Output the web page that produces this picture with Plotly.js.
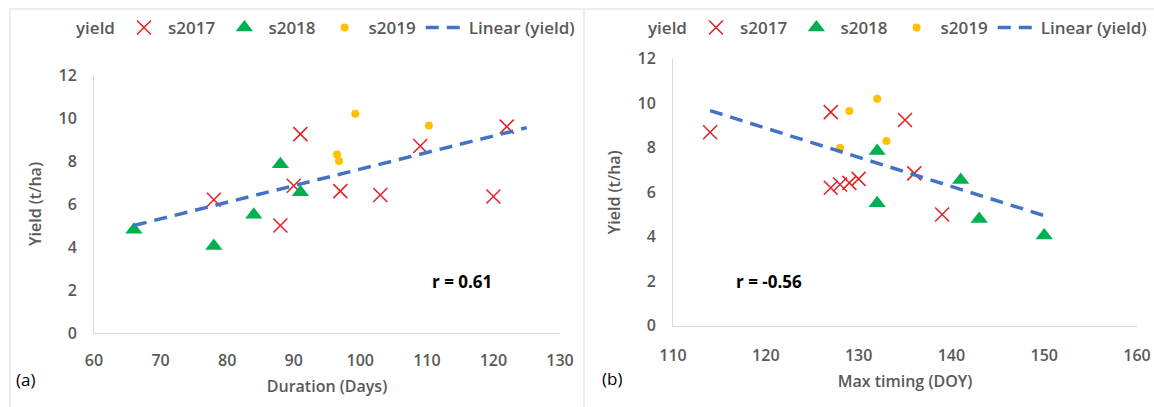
<!DOCTYPE html>
<html>
<head>
<meta charset="utf-8">
<script src="https://cdn.plot.ly/plotly-3.0.1.min.js"></script>
<style>
  html, body { margin: 0; padding: 0; background: #ffffff; }
  #chart { width: 1154px; height: 407px; }
</style>
</head>
<body>
<div id="chart"></div>
<script>
// Yield per site, grouped by season, with the two predictors for each site
const yield2017 = [6.2, 5.0, 6.85, 9.25, 6.6, 6.42, 8.7, 6.35, 9.6];
const duration2017 = [78, 88, 90, 91, 97, 103, 109, 120, 122];
const maxDoy2017 = [127, 139, 136, 135, 130, 129, 114, 128, 127];

const yield2018 = [4.8, 4.05, 5.5, 7.85, 6.55];
const duration2018 = [66, 78, 84, 88, 91];
const maxDoy2018 = [143, 150, 132, 132, 141];

const yield2019 = [10.2, 9.65, 8.3, 8.0];
const duration2019 = [99.25, 110.3, 96.5, 96.8];
const maxDoy2019 = [132, 129, 133, 128];

// Linear trend end points for each panel
const trendDurationX = [66, 125];
const trendDurationY = [5.0, 9.55];
const trendDoyX = [114, 150];
const trendDoyY = [9.67, 4.95];

const rLabels = ['r = 0.61', 'r = -0.56'];
const panelLabels = ['(a)', '(b)'];

const W = 1154, H = 407;
const px = v => v / W;          // horizontal pixel -> paper
const py = v => 1 - v / H;      // vertical pixel (from top) -> paper

const GRAY = '#595959';
const FONT = 'Open Sans, sans-serif';
const RED = '#E0262B', GREEN = '#00B050', GOLD = '#FFC000', BLUE = '#4472C4';

function seriesTraces(xa, ya, legendId, xs2017, xs2018, xs2019, tx, ty) {
  return [
    { type: 'scatter', mode: 'markers', name: 'yield', x: [null], y: [null],
      xaxis: xa, yaxis: ya, legend: legendId,
      marker: { size: 0, color: 'rgba(0,0,0,0)', line: { width: 0 } } },
    { type: 'scatter', mode: 'markers', name: 's2017', x: xs2017, y: yield2017,
      xaxis: xa, yaxis: ya, legend: legendId,
      marker: { symbol: 'x-thin-open', size: 14, color: RED, line: { color: RED, width: 1.6 } } },
    { type: 'scatter', mode: 'markers', name: 's2018', x: xs2018, y: yield2018,
      xaxis: xa, yaxis: ya, legend: legendId,
      marker: { symbol: 'triangle-up', size: 15, color: GREEN } },
    { type: 'scatter', mode: 'markers', name: 's2019', x: xs2019, y: yield2019,
      xaxis: xa, yaxis: ya, legend: legendId,
      marker: { symbol: 'circle', size: 8, color: GOLD } },
    { type: 'scatter', mode: 'lines', name: 'Linear (yield)', x: tx, y: ty,
      xaxis: xa, yaxis: ya, legend: legendId,
      line: { color: BLUE, width: 3.5, dash: '13px,8px' } }
  ];
}

const data = [
  ...seriesTraces('x', 'y', 'legend', duration2017, duration2018, duration2019, trendDurationX, trendDurationY),
  ...seriesTraces('x2', 'y2', 'legend2', maxDoy2017, maxDoy2018, maxDoy2019, trendDoyX, trendDoyY)
];

const tickFont = { family: FONT, size: 16, color: GRAY, weight: 600 };
const titleFont = { family: FONT, size: 16, color: GRAY, weight: 600 };

function xAxis(domain, range, dtick, title, anchor, standoff) {
  return {
    domain: domain, range: range, dtick: dtick, tick0: range[0], anchor: anchor,
    showgrid: false, zeroline: false, showline: true, linecolor: '#D9D9D9', linewidth: 1,
    ticks: '', ticklabelstandoff: standoff, tickfont: tickFont, fixedrange: true,
    title: { text: title, font: titleFont, standoff: 10 }
  };
}
function yAxis(domain, anchor) {
  return {
    domain: domain, range: [0, 12], dtick: 2, tick0: 0, anchor: anchor,
    showgrid: false, zeroline: false, showline: true, linecolor: '#D9D9D9', linewidth: 1,
    ticks: '', ticklabelstandoff: 13, tickfont: tickFont, fixedrange: true,
    title: { text: 'Yield (t/ha)', font: titleFont, standoff: 12 }
  };
}

const legendBase = {
  orientation: 'h', xanchor: 'right', yanchor: 'middle',
  itemwidth: 38,
  font: { family: FONT, size: 17, color: GRAY, weight: 600 },
  bgcolor: 'rgba(0,0,0,0)', itemclick: false, itemdoubleclick: false,
  tracegroupgap: 0
};

const layout = {
  width: W, height: H,
  margin: { l: 0, r: 0, t: 0, b: 0 },
  paper_bgcolor: '#ffffff', plot_bgcolor: '#ffffff',
  showlegend: true,
  xaxis: xAxis([px(94), px(560)], [60, 130], 10, 'Duration (Days)', 'y', 13),
  yaxis: yAxis([py(333), py(75)], 'x'),
  xaxis2: xAxis([px(673), px(1137)], [110, 160], 10, 'Max timing (DOY)', 'y2', 15),
  yaxis2: yAxis([py(325.7), py(58.8)], 'x2'),
  legend: Object.assign({}, legendBase, { x: px(580), y: py(28) }),
  legend2: Object.assign({}, legendBase, { x: px(1152), y: py(28) }),
  shapes: [
    { type: 'rect', xref: 'paper', yref: 'paper', x0: px(10), x1: px(584), y0: py(420), y1: py(9),
      line: { color: '#D9D9D9', width: 1 }, fillcolor: 'rgba(0,0,0,0)', layer: 'below' },
    { type: 'line', xref: 'paper', yref: 'paper', x0: px(584), x1: px(1160), y0: py(9), y1: py(9),
      line: { color: '#D9D9D9', width: 1 }, layer: 'below' }
  ],
  annotations: [
    { xref: 'paper', yref: 'paper', x: px(462), y: py(295), text: rLabels[0], showarrow: false,
      font: { family: FONT, size: 17, color: '#000000', weight: 700 } },
    { xref: 'paper', yref: 'paper', x: px(769), y: py(295), text: rLabels[1], showarrow: false,
      font: { family: FONT, size: 17, color: '#000000', weight: 700 } },
    { xref: 'paper', yref: 'paper', x: px(14), y: py(393), text: panelLabels[0], showarrow: false,
      font: { family: FONT, size: 17, color: '#000000' } },
    { xref: 'paper', yref: 'paper', x: px(612), y: py(392), text: panelLabels[1], showarrow: false,
      font: { family: FONT, size: 17, color: '#000000' } }
  ]
};

Plotly.newPlot('chart', data, layout, { staticPlot: true, displayModeBar: false });
</script>
</body>
</html>
